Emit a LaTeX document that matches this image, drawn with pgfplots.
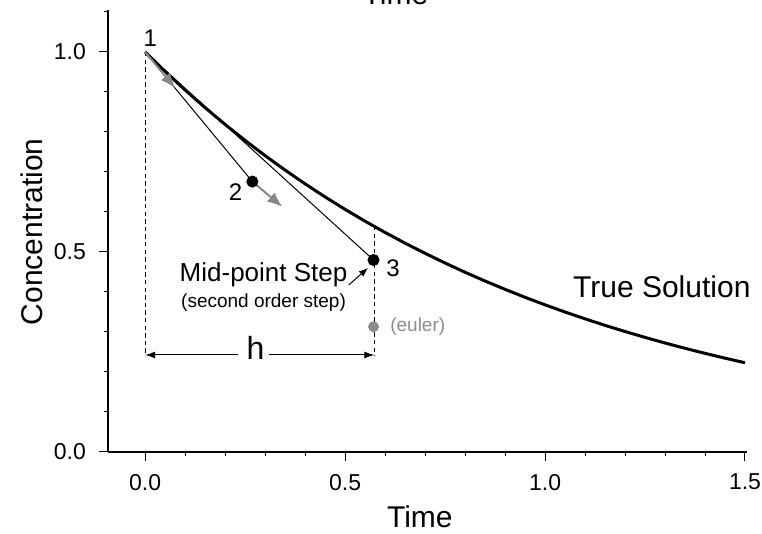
\documentclass[border=0pt]{standalone}
\usepackage{fontspec}
\setmainfont{Liberation Sans}
\usepackage{pgfplots}
\pgfplotsset{compat=1.18}
\usetikzlibrary{arrows.meta}

\definecolor{arrgray}{RGB}{135,135,135}
\definecolor{eulergray}{RGB}{140,140,140}

\begin{document}
\begin{tikzpicture}
\begin{axis}[
  at={(0,0)}, anchor=south west,
  scale only axis, width=319.5pt, height=221pt,
  xmin=-0.093, xmax=1.505, ymin=0, ymax=1.105,
  axis x line*=bottom, axis y line*=left,
  axis line style={line width=0.75pt},
  xtick={0,0.5,1,1.5}, xticklabels={0.0,0.5,1.0,1.5},
  ytick={0,0.5,1}, yticklabels={0.0,0.5,1.0},
  minor xtick={0.1,0.2,0.3,0.4,0.6,0.7,0.8,0.9,1.1,1.2,1.3,1.4},
  minor ytick={0.1,0.2,0.3,0.4,0.6,0.7,0.8,0.9,1.1},
  tick align=outside,
  major tick length=4.5pt, minor tick length=2pt,
  tick style={black, line width=0.5pt},
  ticklabel style={font=\fontsize{11.5}{13}\selectfont},
  xticklabel style={yshift=-3pt},
  yticklabel style={xshift=-3pt},
  xlabel={Time}, ylabel={Concentration},
  xlabel style={font=\fontsize{15}{18}\selectfont, at={(axis description cs:0.488,-0.147)}, anchor=center},
  ylabel style={font=\fontsize{15}{18}\selectfont, at={(axis description cs:-0.119,0.498)}, anchor=center, rotate=0},
  clip=false,
]
% thin step lines
\addplot [black, line width=0.5pt] coordinates {(0,1) (0.268,0.676)};
\addplot [black, line width=0.5pt] coordinates {(0,1) (0.571,0.48)};
% true solution
\addplot [black, line width=1.5pt] coordinates {
(0,1) (0.05,0.9512) (0.1,0.9048) (0.15,0.8607) (0.2,0.8187) (0.25,0.7788)
(0.3,0.7408) (0.35,0.7047) (0.4,0.6703) (0.45,0.6376) (0.5,0.6065)
(0.55,0.5769) (0.6,0.5488) (0.65,0.5220) (0.7,0.4966) (0.75,0.4724)
(0.8,0.4493) (0.85,0.4274) (0.9,0.4066) (0.95,0.3867) (1.0,0.3679)
(1.05,0.3499) (1.1,0.3329) (1.15,0.3166) (1.2,0.3012) (1.25,0.2865)
(1.3,0.2725) (1.35,0.2592) (1.4,0.2466) (1.45,0.2346) (1.5,0.2231)};
% dashed guides
\addplot [black, line width=0.5pt, dash pattern=on 2.2pt off 1.6pt] coordinates {(0,1) (0,0.24)};
\addplot [black, line width=0.5pt, dash pattern=on 2.2pt off 1.6pt] coordinates {(0.573,0.565) (0.573,0.24)};
% h arrows
\addplot [black, line width=0.5pt, -{Latex[length=5pt,width=3.5pt]}] coordinates {(0.233,0.2425) (0,0.2425)};
\addplot [black, line width=0.5pt, -{Latex[length=5pt,width=3.5pt]}] coordinates {(0.309,0.2425) (0.573,0.2425)};
% slope arrows
\addplot [arrgray, line width=1pt, -{Latex[length=7.5pt,width=6pt]}] coordinates {(0,1) (0.075,0.91)};
\addplot [arrgray, line width=1pt, -{Latex[length=7.5pt,width=6pt]}] coordinates {(0.268,0.676) (0.343,0.613)};
% pointer to point 3
\addplot [black, line width=0.5pt, -{Latex[length=4.5pt,width=3.5pt]}] coordinates {(0.509,0.4175) (0.557,0.46)};
% points
\addplot [only marks, mark=*, mark size=2.8pt, black] coordinates {(0.268,0.676) (0.571,0.48)};
\addplot [only marks, mark=*, mark size=2.5pt, eulergray, mark options={draw=eulergray, fill=eulergray}] coordinates {(0.571,0.313)};
% texts
\node [font=\fontsize{12}{14}\selectfont] at (axis cs:0.0125,1.035) {1};
\node [font=\fontsize{12}{14}\selectfont] at (axis cs:0.226,0.65) {2};
\node [font=\fontsize{12}{14}\selectfont] at (axis cs:0.62,0.46) {3};
\node [font=\fontsize{16}{19}\selectfont, anchor=base] at (axis cs:0.276,0.23) {h};
\node [font=\fontsize{13}{15}\selectfont] at (axis cs:0.296,0.4425) {Mid-point Step};
\node [font=\fontsize{9.5}{11}\selectfont] at (axis cs:0.296,0.3725) {(second order step)};
\node [font=\fontsize{9.5}{11}\selectfont, text=eulergray, anchor=west, inner sep=0pt] at (axis cs:0.612,0.313) {(euler)};
\node [font=\fontsize{15}{18}\selectfont] at (axis cs:1.292,0.4125) {True Solution};
\node [font=\fontsize{15}{18}\selectfont, anchor=base] at (rel axis cs:0.45,1) [yshift=2.5pt] {Time};
\end{axis}
\pgfresetboundingbox
\useasboundingbox (-54pt,-41pt) rectangle (327pt,226pt);
\end{tikzpicture}
\end{document}
